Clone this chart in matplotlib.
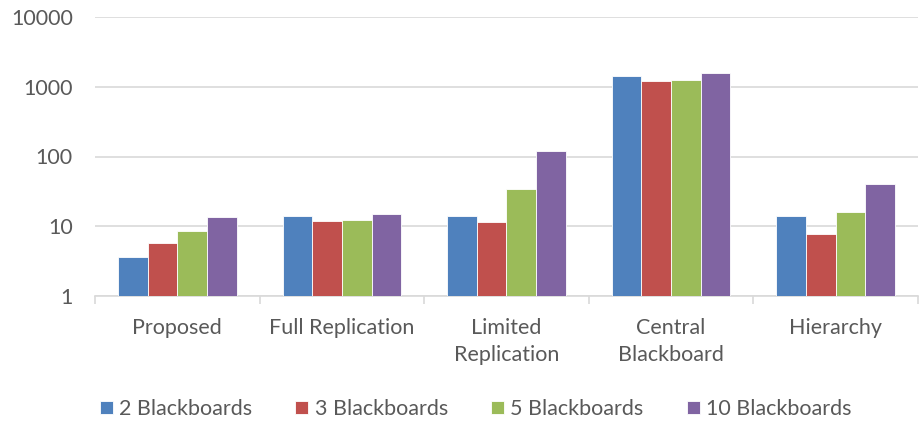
import numpy as np
import matplotlib
matplotlib.use("Agg")
import matplotlib.pyplot as plt

categories = ["Proposed", "Full Replication", "Limited\nReplication", "Central\nBlackboard", "Hierarchy"]
series_names = ["2 Blackboards", "3 Blackboards", "5 Blackboards", "10 Blackboards"]
bb2 = [3.6, 13.9, 13.9, 1420, 13.9]
bb3 = [5.7, 11.8, 11.5, 1200, 7.8]
bb5 = [8.6, 12.2, 34.3, 1245, 15.9]
bb10 = [13.5, 15.0, 120, 1550, 40]
colors = ["#4F81BD", "#C0504D", "#9BBB59", "#8064A2"]

plt.rcParams['font.family'] = ['Lato', 'DejaVu Sans']
txt = "#595959"

fig = plt.figure(figsize=(9.2, 4.21), dpi=100)
ax = fig.add_axes([95/920, 125/421, 823/920, 279/421])

x = np.arange(len(categories))
w = 0.18
for i, (vals, name, c) in enumerate(zip([bb2, bb3, bb5, bb10], series_names, colors)):
    ax.bar(x + (i - 1.5) * w, vals, w, color=c, edgecolor="white", linewidth=0.6, label=name, zorder=3)

ax.set_yscale("log")
ax.set_ylim(1, 10000)
ax.set_xlim(-0.5, len(categories) - 0.5)
ax.set_yticks([1, 10, 100, 1000, 10000])
ax.set_yticklabels(["1", "10", "100", "1000", "10000"])
ax.minorticks_off()
ax.yaxis.grid(True, color="#D9D9D9", linewidth=1.2, zorder=0)
ax.tick_params(axis="y", length=0, pad=16, labelsize=15.5, labelcolor=txt)

ax.set_xticks(np.arange(-0.5, len(categories)), minor=False)
ax.set_xticklabels([])
ax.set_xticks(x, minor=True)
ax.set_xticklabels(categories, minor=True, linespacing=1.45)
ax.tick_params(axis="x", which="major", length=6, color="#D9D9D9", width=1.2, direction="out")
ax.tick_params(axis="x", which="minor", length=0, pad=16, labelsize=15.5, labelcolor=txt)

for s in ["top", "right", "left"]:
    ax.spines[s].set_visible(False)
ax.spines["bottom"].set_color("#D9D9D9")
ax.spines["bottom"].set_linewidth(1.2)

fig.legend(loc="center", bbox_to_anchor=(0.517, 12/421), ncol=4, frameon=False,
           fontsize=15.5, labelcolor=txt, handlelength=0.6, handleheight=0.6,
           handletextpad=0.3, columnspacing=2.0, borderaxespad=0)

fig.savefig("out.png", dpi=100)
